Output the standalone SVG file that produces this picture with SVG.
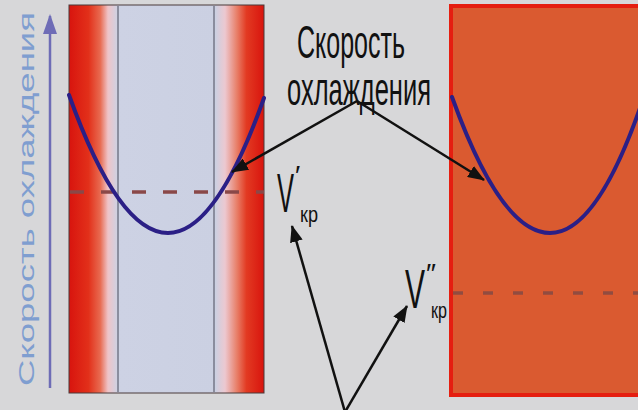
<svg xmlns="http://www.w3.org/2000/svg" width="638" height="410" viewBox="0 0 638 410">
<defs>
<style>
.lbl{font-family:"Liberation Sans",Arial,sans-serif;fill:#111}
.curve{fill:none;stroke:#2b1f86;stroke-width:4;stroke-linecap:round}
.conn{stroke:#111;stroke-width:2.5;fill:none}
</style>
<linearGradient id="gL" x1="69" y1="0" x2="264" y2="0" gradientUnits="userSpaceOnUse">
<stop offset="0" stop-color="#d8140e"/>
<stop offset="0.1" stop-color="#e2301a"/>
<stop offset="0.16" stop-color="#e86a50"/>
<stop offset="0.2" stop-color="#efc4c8"/>
<stop offset="0.25" stop-color="#cdd2e4"/>
<stop offset="0.75" stop-color="#cbd0e2"/>
<stop offset="0.8" stop-color="#ecc8d0"/>
<stop offset="0.86" stop-color="#e8806a"/>
<stop offset="0.91" stop-color="#e23a22"/>
<stop offset="1" stop-color="#d8140e"/>
</linearGradient>
<marker id="ah" markerUnits="userSpaceOnUse" markerWidth="17" markerHeight="13" refX="16" refY="6.5" orient="auto">
<path d="M0,0 L17,6.5 L0,13 z" fill="#111"/>
</marker>
<marker id="axh" markerUnits="userSpaceOnUse" markerWidth="20" markerHeight="14" refX="18" refY="7" orient="auto">
<path d="M0,0 L20,7 L0,14 z" fill="#6e6cb6"/>
</marker>
</defs>
<rect width="638" height="410" fill="#d7d7d9"/>

<g id="axis">
<line x1="50" y1="388" x2="50" y2="16" stroke="#6e6cb6" stroke-width="2.5" marker-end="url(#axh)"/>
<text class="lbl" style="fill:#7f9ed0" font-size="22" transform="translate(34,386) rotate(-90)" textLength="374" lengthAdjust="spacingAndGlyphs">Скорость охлаждения</text>
</g>

<g id="panel-left">
<rect x="69" y="5" width="195" height="388" fill="url(#gL)" stroke="#4a3a3a" stroke-width="1"/>
<line x1="118" y1="6" x2="118" y2="392" stroke="#4a4a5a" stroke-width="1"/>
<line x1="214" y1="6" x2="214" y2="392" stroke="#4a4a5a" stroke-width="1"/>
<line x1="70" y1="192" x2="264" y2="192" stroke="#8a4848" stroke-width="3.5" stroke-dasharray="14 17"/>
<path class="curve" d="M69,95 Q118.5,233 168,233 Q216,233 264,98"/>
</g>

<g id="panel-right">
<rect x="451" y="6" width="190" height="389" fill="#da5a30" stroke="#e51e10" stroke-width="4"/>
<line x1="453" y1="293" x2="638" y2="293" stroke="#914c40" stroke-width="3.5" stroke-dasharray="10 20"/>
<path class="curve" d="M452,97 Q501,233 550,233 Q596,233 640,108"/>
</g>

<g id="label-speed">
<text class="lbl" x="297" y="58" font-size="46" textLength="108" lengthAdjust="spacingAndGlyphs">Скорость</text>
<text class="lbl" x="287" y="105" font-size="46" textLength="144" lengthAdjust="spacingAndGlyphs">охлаждения</text>
</g>

<g id="label-vkr1">
<text class="lbl"><tspan x="277" y="212" font-size="56" textLength="17" lengthAdjust="spacingAndGlyphs">V</tspan><tspan x="295" y="185" font-size="28">′</tspan><tspan x="300" y="222" font-size="22" textLength="18" lengthAdjust="spacingAndGlyphs">кр</tspan></text>
</g>

<g id="label-vkr2">
<text class="lbl"><tspan x="405" y="308" font-size="56" textLength="20" lengthAdjust="spacingAndGlyphs">V</tspan><tspan x="426" y="283" font-size="28">″</tspan><tspan x="431" y="318" font-size="22" textLength="16" lengthAdjust="spacingAndGlyphs">кр</tspan></text>
</g>

<g id="connectors">
<line class="conn" x1="357" y1="101" x2="232" y2="172" marker-end="url(#ah)"/>
<line class="conn" x1="357" y1="101" x2="484" y2="180" marker-end="url(#ah)"/>
<line class="conn" x1="345" y1="412" x2="292" y2="226" marker-end="url(#ah)"/>
<line class="conn" x1="345" y1="412" x2="407" y2="306" marker-end="url(#ah)"/>
</g>
</svg>
